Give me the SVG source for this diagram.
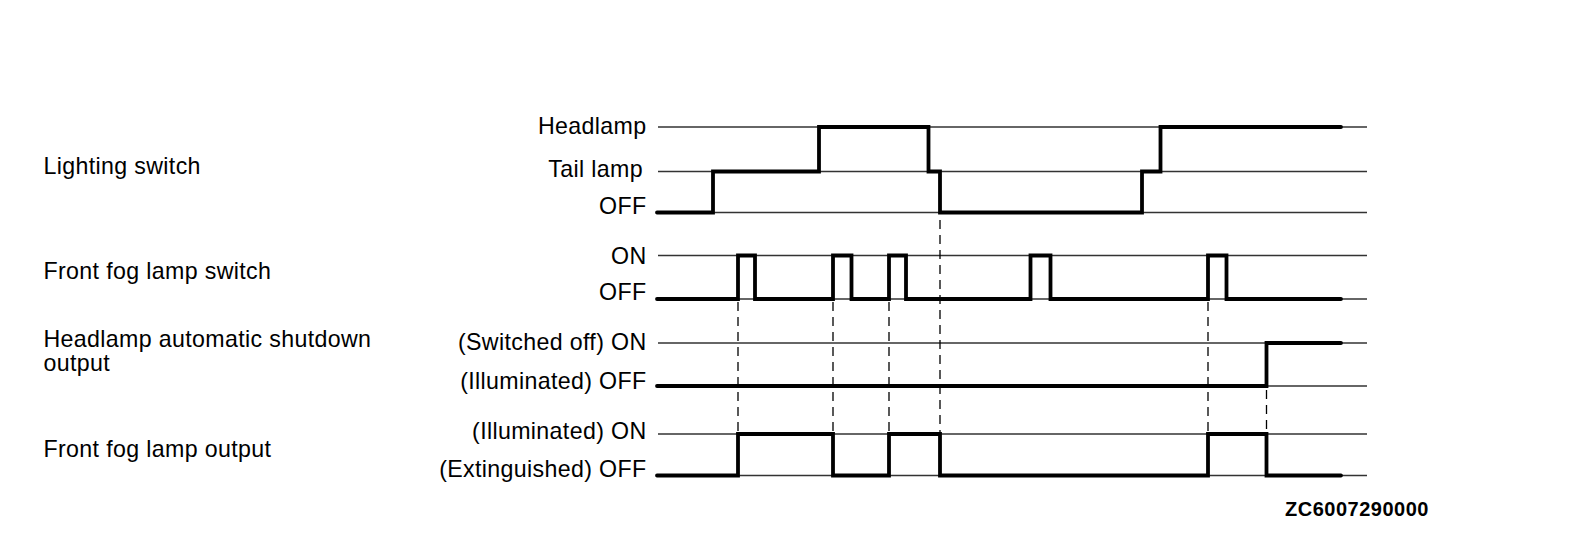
<svg xmlns="http://www.w3.org/2000/svg" width="1581" height="552" viewBox="0 0 1581 552">
<style>
text{font-family:"Liberation Sans",Arial,sans-serif;font-size:23.2px;letter-spacing:0.35px;fill:#000}
.r{text-anchor:end}
.code{font-weight:bold;font-size:20px;letter-spacing:0.5px}
.thin{stroke:#333;stroke-width:1.3;fill:none}
.wave{stroke:#000;stroke-width:3.8;fill:none;stroke-linecap:round;stroke-linejoin:miter}
.dash{stroke:#000;stroke-width:1.3;fill:none;stroke-dasharray:9 6}
</style>
<rect width="1581" height="552" fill="#fff"/>
<g id="labels-left">
<text x="43.5" y="174">Lighting switch</text>
<text x="43.5" y="278.5">Front fog lamp switch</text>
<text x="43.5" y="346.5">Headlamp automatic shutdown</text>
<text x="43.5" y="370.5">output</text>
<text x="43.5" y="456.5">Front fog lamp output</text>
</g>
<g id="labels-right">
<text class="r" x="646.5" y="134">Headlamp</text>
<text class="r" x="643" y="177">Tail lamp</text>
<text class="r" x="646.5" y="213.5">OFF</text>
<text class="r" x="646.5" y="263.5">ON</text>
<text class="r" x="646.5" y="299.5">OFF</text>
<text class="r" x="646.5" y="349.5">(Switched off) ON</text>
<text class="r" x="646.5" y="388.5">(Illuminated) OFF</text>
<text class="r" x="646.5" y="438.5">(Illuminated) ON</text>
<text class="r" x="646.5" y="476.5">(Extinguished) OFF</text>
</g>
<g id="levels">
<line class="thin" x1="658" y1="127" x2="1367" y2="127"/>
<line class="thin" x1="658" y1="171.5" x2="1367" y2="171.5"/>
<line class="thin" x1="658" y1="212.5" x2="1367" y2="212.5"/>
<line class="thin" x1="658" y1="255.5" x2="1367" y2="255.5"/>
<line class="thin" x1="658" y1="299" x2="1367" y2="299"/>
<line class="thin" x1="658" y1="343" x2="1367" y2="343"/>
<line class="thin" x1="658" y1="386" x2="1367" y2="386"/>
<line class="thin" x1="658" y1="434" x2="1367" y2="434"/>
<line class="thin" x1="658" y1="475.5" x2="1367" y2="475.5"/>
</g>
<g id="connectors">
<line class="dash" x1="738" y1="302" x2="738" y2="432"/>
<line class="dash" x1="833" y1="302" x2="833" y2="432"/>
<line class="dash" x1="889" y1="302" x2="889" y2="432"/>
<line class="dash" x1="940" y1="220" x2="940" y2="432"/>
<line class="dash" x1="1208" y1="302" x2="1208" y2="432"/>
<line class="dash" x1="1266.5" y1="390" x2="1266.5" y2="432"/>
</g>
<g id="lighting-switch">
<path class="wave" d="M657,212.5 H713 V171.5 H819 V127 H928.5 V171.5 H940 V212.5 H1142 V171.5 H1160.5 V127 H1341"/>
</g>
<g id="front-fog-lamp-switch">
<path class="wave" d="M657,299 H738 V255.5 H755 V299 H833 V255.5 H851.5 V299 H889 V255.5 H906 V299 H1030.5 V255.5 H1050.5 V299 H1208 V255.5 H1226.5 V299 H1341"/>
</g>
<g id="headlamp-auto-shutdown">
<path class="wave" d="M657,386 H1266.5 V343 H1341"/>
</g>
<g id="front-fog-lamp-output">
<path class="wave" d="M657,475.5 H738 V434 H833 V475.5 H889 V434 H940 V475.5 H1208 V434 H1266.5 V475.5 H1341"/>
</g>
<text class="code" x="1285" y="516">ZC6007290000</text>
</svg>
